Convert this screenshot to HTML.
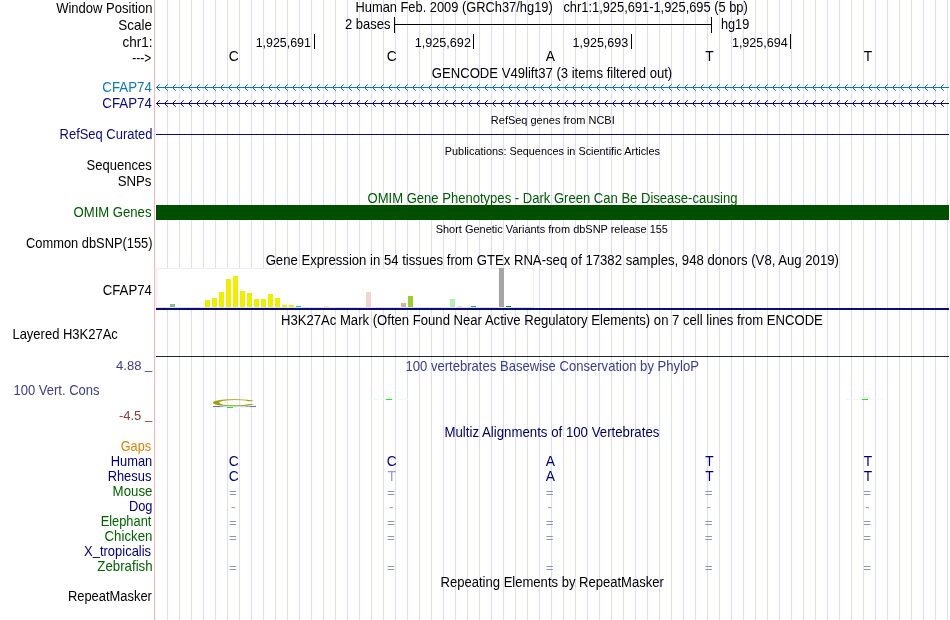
<!DOCTYPE html>
<html><head><meta charset="utf-8"><title>UCSC Genome Browser chr1:1,925,691-1,925,695</title>
<style>html,body{margin:0;padding:0;background:#fff;overflow:hidden}svg{display:block}text{font-family:"Liberation Sans",sans-serif;font-size:13.8px}.s{font-size:11px}.n{font-size:13.4px}.m{text-anchor:middle}.g{shape-rendering:crispEdges}</style></head><body>
<svg width="950" height="620" viewBox="0 0 950 620">
<rect width="950" height="620" fill="#fff"/>
<g class="g" fill="#dcdcff">
<rect x="167" y="0" width="1" height="620"/>
<rect x="179" y="0" width="1" height="620"/>
<rect x="191" y="0" width="1" height="620"/>
<rect x="203" y="0" width="1" height="620"/>
<rect x="215" y="0" width="1" height="620"/>
<rect x="227" y="0" width="1" height="620"/>
<rect x="239" y="0" width="1" height="620"/>
<rect x="251" y="0" width="1" height="620"/>
<rect x="263" y="0" width="1" height="620"/>
<rect x="275" y="0" width="1" height="620"/>
<rect x="287" y="0" width="1" height="620"/>
<rect x="299" y="0" width="1" height="620"/>
<rect x="311" y="0" width="1" height="620"/>
<rect x="323" y="0" width="1" height="620"/>
<rect x="335" y="0" width="1" height="620"/>
<rect x="347" y="0" width="1" height="620"/>
<rect x="359" y="0" width="1" height="620"/>
<rect x="371" y="0" width="1" height="620"/>
<rect x="383" y="0" width="1" height="620"/>
<rect x="395" y="0" width="1" height="620"/>
<rect x="407" y="0" width="1" height="620"/>
<rect x="419" y="0" width="1" height="620"/>
<rect x="431" y="0" width="1" height="620"/>
<rect x="443" y="0" width="1" height="620"/>
<rect x="455" y="0" width="1" height="620"/>
<rect x="467" y="0" width="1" height="620"/>
<rect x="479" y="0" width="1" height="620"/>
<rect x="491" y="0" width="1" height="620"/>
<rect x="503" y="0" width="1" height="620"/>
<rect x="515" y="0" width="1" height="620"/>
<rect x="527" y="0" width="1" height="620"/>
<rect x="539" y="0" width="1" height="620"/>
<rect x="551" y="0" width="1" height="620"/>
<rect x="563" y="0" width="1" height="620"/>
<rect x="575" y="0" width="1" height="620"/>
<rect x="587" y="0" width="1" height="620"/>
<rect x="599" y="0" width="1" height="620"/>
<rect x="611" y="0" width="1" height="620"/>
<rect x="623" y="0" width="1" height="620"/>
<rect x="635" y="0" width="1" height="620"/>
<rect x="647" y="0" width="1" height="620"/>
<rect x="659" y="0" width="1" height="620"/>
<rect x="671" y="0" width="1" height="620"/>
<rect x="683" y="0" width="1" height="620"/>
<rect x="695" y="0" width="1" height="620"/>
<rect x="707" y="0" width="1" height="620"/>
<rect x="719" y="0" width="1" height="620"/>
<rect x="731" y="0" width="1" height="620"/>
<rect x="743" y="0" width="1" height="620"/>
<rect x="755" y="0" width="1" height="620"/>
<rect x="767" y="0" width="1" height="620"/>
<rect x="779" y="0" width="1" height="620"/>
<rect x="791" y="0" width="1" height="620"/>
<rect x="803" y="0" width="1" height="620"/>
<rect x="815" y="0" width="1" height="620"/>
<rect x="827" y="0" width="1" height="620"/>
<rect x="839" y="0" width="1" height="620"/>
<rect x="851" y="0" width="1" height="620"/>
<rect x="863" y="0" width="1" height="620"/>
<rect x="875" y="0" width="1" height="620"/>
<rect x="887" y="0" width="1" height="620"/>
<rect x="899" y="0" width="1" height="620"/>
<rect x="911" y="0" width="1" height="620"/>
<rect x="923" y="0" width="1" height="620"/>
<rect x="935" y="0" width="1" height="620"/>
<rect x="947" y="0" width="1" height="620"/>
</g>
<rect class="g" x="154" y="0" width="1" height="620" fill="#ffb4b4"/>
<g class="g" fill="#000">
<rect x="394" y="24" width="318" height="1"/>
<rect x="394" y="17" width="1" height="16"/>
<rect x="711" y="17" width="1" height="16"/>
<rect x="314" y="34" width="1" height="15"/>
<rect x="473" y="34" width="1" height="15"/>
<rect x="631" y="34" width="1" height="15"/>
<rect x="790" y="34" width="1" height="15"/>
</g>
<text class="m" x="233.8" y="61">C</text>
<text class="m" x="391.8" y="61">C</text>
<text class="m" x="550.4" y="61">A</text>
<text class="m" x="709.4" y="61">T</text>
<text class="m" x="868.0" y="61">T</text>
<rect class="g" x="156" y="87" width="793" height="1" fill="#0c78b4"/>
<path d="M159.8 84.2L156.5 87.5L159.8 90.8M167.8 84.2L164.5 87.5L167.8 90.8M175.8 84.2L172.5 87.5L175.8 90.8M183.8 84.2L180.5 87.5L183.8 90.8M191.8 84.2L188.5 87.5L191.8 90.8M199.8 84.2L196.5 87.5L199.8 90.8M207.8 84.2L204.5 87.5L207.8 90.8M215.8 84.2L212.5 87.5L215.8 90.8M223.8 84.2L220.5 87.5L223.8 90.8M231.8 84.2L228.5 87.5L231.8 90.8M239.8 84.2L236.5 87.5L239.8 90.8M247.8 84.2L244.5 87.5L247.8 90.8M255.8 84.2L252.5 87.5L255.8 90.8M263.8 84.2L260.5 87.5L263.8 90.8M271.8 84.2L268.5 87.5L271.8 90.8M279.8 84.2L276.5 87.5L279.8 90.8M287.8 84.2L284.5 87.5L287.8 90.8M295.8 84.2L292.5 87.5L295.8 90.8M303.8 84.2L300.5 87.5L303.8 90.8M311.8 84.2L308.5 87.5L311.8 90.8M319.8 84.2L316.5 87.5L319.8 90.8M327.8 84.2L324.5 87.5L327.8 90.8M335.8 84.2L332.5 87.5L335.8 90.8M343.8 84.2L340.5 87.5L343.8 90.8M351.8 84.2L348.5 87.5L351.8 90.8M359.8 84.2L356.5 87.5L359.8 90.8M367.8 84.2L364.5 87.5L367.8 90.8M375.8 84.2L372.5 87.5L375.8 90.8M383.8 84.2L380.5 87.5L383.8 90.8M391.8 84.2L388.5 87.5L391.8 90.8M399.8 84.2L396.5 87.5L399.8 90.8M407.8 84.2L404.5 87.5L407.8 90.8M415.8 84.2L412.5 87.5L415.8 90.8M423.8 84.2L420.5 87.5L423.8 90.8M431.8 84.2L428.5 87.5L431.8 90.8M439.8 84.2L436.5 87.5L439.8 90.8M447.8 84.2L444.5 87.5L447.8 90.8M455.8 84.2L452.5 87.5L455.8 90.8M463.8 84.2L460.5 87.5L463.8 90.8M471.8 84.2L468.5 87.5L471.8 90.8M479.8 84.2L476.5 87.5L479.8 90.8M487.8 84.2L484.5 87.5L487.8 90.8M495.8 84.2L492.5 87.5L495.8 90.8M503.8 84.2L500.5 87.5L503.8 90.8M511.8 84.2L508.5 87.5L511.8 90.8M519.8 84.2L516.5 87.5L519.8 90.8M527.8 84.2L524.5 87.5L527.8 90.8M535.8 84.2L532.5 87.5L535.8 90.8M543.8 84.2L540.5 87.5L543.8 90.8M551.8 84.2L548.5 87.5L551.8 90.8M559.8 84.2L556.5 87.5L559.8 90.8M567.8 84.2L564.5 87.5L567.8 90.8M575.8 84.2L572.5 87.5L575.8 90.8M583.8 84.2L580.5 87.5L583.8 90.8M591.8 84.2L588.5 87.5L591.8 90.8M599.8 84.2L596.5 87.5L599.8 90.8M607.8 84.2L604.5 87.5L607.8 90.8M615.8 84.2L612.5 87.5L615.8 90.8M623.8 84.2L620.5 87.5L623.8 90.8M631.8 84.2L628.5 87.5L631.8 90.8M639.8 84.2L636.5 87.5L639.8 90.8M647.8 84.2L644.5 87.5L647.8 90.8M655.8 84.2L652.5 87.5L655.8 90.8M663.8 84.2L660.5 87.5L663.8 90.8M671.8 84.2L668.5 87.5L671.8 90.8M679.8 84.2L676.5 87.5L679.8 90.8M687.8 84.2L684.5 87.5L687.8 90.8M695.8 84.2L692.5 87.5L695.8 90.8M703.8 84.2L700.5 87.5L703.8 90.8M711.8 84.2L708.5 87.5L711.8 90.8M719.8 84.2L716.5 87.5L719.8 90.8M727.8 84.2L724.5 87.5L727.8 90.8M735.8 84.2L732.5 87.5L735.8 90.8M743.8 84.2L740.5 87.5L743.8 90.8M751.8 84.2L748.5 87.5L751.8 90.8M759.8 84.2L756.5 87.5L759.8 90.8M767.8 84.2L764.5 87.5L767.8 90.8M775.8 84.2L772.5 87.5L775.8 90.8M783.8 84.2L780.5 87.5L783.8 90.8M791.8 84.2L788.5 87.5L791.8 90.8M799.8 84.2L796.5 87.5L799.8 90.8M807.8 84.2L804.5 87.5L807.8 90.8M815.8 84.2L812.5 87.5L815.8 90.8M823.8 84.2L820.5 87.5L823.8 90.8M831.8 84.2L828.5 87.5L831.8 90.8M839.8 84.2L836.5 87.5L839.8 90.8M847.8 84.2L844.5 87.5L847.8 90.8M855.8 84.2L852.5 87.5L855.8 90.8M863.8 84.2L860.5 87.5L863.8 90.8M871.8 84.2L868.5 87.5L871.8 90.8M879.8 84.2L876.5 87.5L879.8 90.8M887.8 84.2L884.5 87.5L887.8 90.8M895.8 84.2L892.5 87.5L895.8 90.8M903.8 84.2L900.5 87.5L903.8 90.8M911.8 84.2L908.5 87.5L911.8 90.8M919.8 84.2L916.5 87.5L919.8 90.8M927.8 84.2L924.5 87.5L927.8 90.8M935.8 84.2L932.5 87.5L935.8 90.8M943.8 84.2L940.5 87.5L943.8 90.8" fill="none" stroke="#0c78b4" stroke-width="1"/>
<rect class="g" x="156" y="103" width="793" height="1" fill="#0c0c78"/>
<path d="M159.8 100.2L156.5 103.5L159.8 106.8M167.8 100.2L164.5 103.5L167.8 106.8M175.8 100.2L172.5 103.5L175.8 106.8M183.8 100.2L180.5 103.5L183.8 106.8M191.8 100.2L188.5 103.5L191.8 106.8M199.8 100.2L196.5 103.5L199.8 106.8M207.8 100.2L204.5 103.5L207.8 106.8M215.8 100.2L212.5 103.5L215.8 106.8M223.8 100.2L220.5 103.5L223.8 106.8M231.8 100.2L228.5 103.5L231.8 106.8M239.8 100.2L236.5 103.5L239.8 106.8M247.8 100.2L244.5 103.5L247.8 106.8M255.8 100.2L252.5 103.5L255.8 106.8M263.8 100.2L260.5 103.5L263.8 106.8M271.8 100.2L268.5 103.5L271.8 106.8M279.8 100.2L276.5 103.5L279.8 106.8M287.8 100.2L284.5 103.5L287.8 106.8M295.8 100.2L292.5 103.5L295.8 106.8M303.8 100.2L300.5 103.5L303.8 106.8M311.8 100.2L308.5 103.5L311.8 106.8M319.8 100.2L316.5 103.5L319.8 106.8M327.8 100.2L324.5 103.5L327.8 106.8M335.8 100.2L332.5 103.5L335.8 106.8M343.8 100.2L340.5 103.5L343.8 106.8M351.8 100.2L348.5 103.5L351.8 106.8M359.8 100.2L356.5 103.5L359.8 106.8M367.8 100.2L364.5 103.5L367.8 106.8M375.8 100.2L372.5 103.5L375.8 106.8M383.8 100.2L380.5 103.5L383.8 106.8M391.8 100.2L388.5 103.5L391.8 106.8M399.8 100.2L396.5 103.5L399.8 106.8M407.8 100.2L404.5 103.5L407.8 106.8M415.8 100.2L412.5 103.5L415.8 106.8M423.8 100.2L420.5 103.5L423.8 106.8M431.8 100.2L428.5 103.5L431.8 106.8M439.8 100.2L436.5 103.5L439.8 106.8M447.8 100.2L444.5 103.5L447.8 106.8M455.8 100.2L452.5 103.5L455.8 106.8M463.8 100.2L460.5 103.5L463.8 106.8M471.8 100.2L468.5 103.5L471.8 106.8M479.8 100.2L476.5 103.5L479.8 106.8M487.8 100.2L484.5 103.5L487.8 106.8M495.8 100.2L492.5 103.5L495.8 106.8M503.8 100.2L500.5 103.5L503.8 106.8M511.8 100.2L508.5 103.5L511.8 106.8M519.8 100.2L516.5 103.5L519.8 106.8M527.8 100.2L524.5 103.5L527.8 106.8M535.8 100.2L532.5 103.5L535.8 106.8M543.8 100.2L540.5 103.5L543.8 106.8M551.8 100.2L548.5 103.5L551.8 106.8M559.8 100.2L556.5 103.5L559.8 106.8M567.8 100.2L564.5 103.5L567.8 106.8M575.8 100.2L572.5 103.5L575.8 106.8M583.8 100.2L580.5 103.5L583.8 106.8M591.8 100.2L588.5 103.5L591.8 106.8M599.8 100.2L596.5 103.5L599.8 106.8M607.8 100.2L604.5 103.5L607.8 106.8M615.8 100.2L612.5 103.5L615.8 106.8M623.8 100.2L620.5 103.5L623.8 106.8M631.8 100.2L628.5 103.5L631.8 106.8M639.8 100.2L636.5 103.5L639.8 106.8M647.8 100.2L644.5 103.5L647.8 106.8M655.8 100.2L652.5 103.5L655.8 106.8M663.8 100.2L660.5 103.5L663.8 106.8M671.8 100.2L668.5 103.5L671.8 106.8M679.8 100.2L676.5 103.5L679.8 106.8M687.8 100.2L684.5 103.5L687.8 106.8M695.8 100.2L692.5 103.5L695.8 106.8M703.8 100.2L700.5 103.5L703.8 106.8M711.8 100.2L708.5 103.5L711.8 106.8M719.8 100.2L716.5 103.5L719.8 106.8M727.8 100.2L724.5 103.5L727.8 106.8M735.8 100.2L732.5 103.5L735.8 106.8M743.8 100.2L740.5 103.5L743.8 106.8M751.8 100.2L748.5 103.5L751.8 106.8M759.8 100.2L756.5 103.5L759.8 106.8M767.8 100.2L764.5 103.5L767.8 106.8M775.8 100.2L772.5 103.5L775.8 106.8M783.8 100.2L780.5 103.5L783.8 106.8M791.8 100.2L788.5 103.5L791.8 106.8M799.8 100.2L796.5 103.5L799.8 106.8M807.8 100.2L804.5 103.5L807.8 106.8M815.8 100.2L812.5 103.5L815.8 106.8M823.8 100.2L820.5 103.5L823.8 106.8M831.8 100.2L828.5 103.5L831.8 106.8M839.8 100.2L836.5 103.5L839.8 106.8M847.8 100.2L844.5 103.5L847.8 106.8M855.8 100.2L852.5 103.5L855.8 106.8M863.8 100.2L860.5 103.5L863.8 106.8M871.8 100.2L868.5 103.5L871.8 106.8M879.8 100.2L876.5 103.5L879.8 106.8M887.8 100.2L884.5 103.5L887.8 106.8M895.8 100.2L892.5 103.5L895.8 106.8M903.8 100.2L900.5 103.5L903.8 106.8M911.8 100.2L908.5 103.5L911.8 106.8M919.8 100.2L916.5 103.5L919.8 106.8M927.8 100.2L924.5 103.5L927.8 106.8M935.8 100.2L932.5 103.5L935.8 106.8M943.8 100.2L940.5 103.5L943.8 106.8" fill="none" stroke="#0c0c78" stroke-width="1"/>
<rect class="g" x="156" y="134" width="793" height="1" fill="#0c0c78"/>
<rect class="g" x="156" y="205" width="793" height="15" fill="#005000"/>
<rect class="g" x="156.5" y="268.5" width="377" height="39" fill="#fff" stroke="#eee" stroke-width="1"/>
<g class="g">
<rect x="170" y="304" width="5" height="3" fill="#8fbc8f"/>
<rect x="205" y="300" width="5" height="7" fill="#eeee00"/>
<rect x="212" y="298" width="5" height="9" fill="#eeee00"/>
<rect x="219" y="292" width="5" height="15" fill="#eeee00"/>
<rect x="226" y="279" width="5" height="28" fill="#eeee00"/>
<rect x="233" y="276" width="5" height="31" fill="#eeee00"/>
<rect x="240" y="291" width="5" height="16" fill="#eeee00"/>
<rect x="247" y="293" width="5" height="14" fill="#eeee00"/>
<rect x="254" y="299" width="5" height="8" fill="#eeee00"/>
<rect x="261" y="299" width="5" height="8" fill="#eeee00"/>
<rect x="268" y="294" width="5" height="13" fill="#eeee00"/>
<rect x="275" y="298" width="5" height="9" fill="#eeee00"/>
<rect x="282" y="305" width="5" height="2" fill="#eeee00"/>
<rect x="289" y="305" width="5" height="2" fill="#eeee00"/>
<rect x="296" y="306" width="5" height="1" fill="#00cdcd"/>
<rect x="324" y="306" width="5" height="1" fill="#ffd7d7"/>
<rect x="366" y="292" width="5" height="15" fill="#eed5d2"/>
<rect x="401" y="303" width="5" height="4" fill="#cdb79e"/>
<rect x="408" y="296" width="5" height="11" fill="#9acd32"/>
<rect x="450" y="299" width="5" height="8" fill="#b4eeb4"/>
<rect x="457" y="306" width="5" height="1" fill="#d9d9d9"/>
<rect x="471" y="306" width="5" height="1" fill="#1e90ff"/>
<rect x="499" y="268" width="5" height="39" fill="#a6a6a6"/>
<rect x="506" y="306" width="5" height="1" fill="#008b45"/>
<rect x="156" y="307" width="378" height="1" fill="#e2e2dc"/>
<rect x="156" y="308" width="793" height="2" fill="#0c0c78"/>
</g>
<rect class="g" x="156" y="356" width="793" height="1" fill="#1e2832"/>
<rect class="g" x="156" y="356" width="1" height="1" fill="#000"/>
<g class="g">
<rect x="213" y="406" width="43" height="1" fill="#6464ff"/>
<rect x="220" y="406" width="3" height="1" fill="#9b9bff"/>
<rect x="223" y="406" width="23" height="1" fill="#d2d2ff"/>
<rect x="246" y="406" width="4" height="1" fill="#9b9bff"/>
<rect x="211" y="407" width="40" height="1" fill="#ebfdeb"/>
<rect x="370" y="399" width="38" height="1" fill="#ebfdeb"/>
<rect x="846" y="399" width="38" height="1" fill="#ebfdeb"/>
<rect x="227" y="407" width="6" height="1" fill="#00ff00"/>
<rect x="386" y="399" width="6" height="1" fill="#00ff00"/>
<rect x="862" y="399" width="6" height="1" fill="#00ff00"/>
</g>
<text x="0" y="0" transform="translate(209.7 405.9) scale(0.654 0.097)" fill="#a0a000" style="font-size:100px;text-rendering:geometricPrecision">C</text>
<text class="m" x="233.8" y="466" fill="#000078">C</text>
<text class="m" x="391.8" y="466" fill="#000078">C</text>
<text class="m" x="550.4" y="466" fill="#000078">A</text>
<text class="m" x="709.4" y="466" fill="#000078">T</text>
<text class="m" x="868.0" y="466" fill="#000078">T</text>
<text class="m" x="233.8" y="481" fill="#000078">C</text>
<text class="m" x="391.8" y="481" fill="#969bc3">T</text>
<text class="m" x="550.4" y="481" fill="#000078">A</text>
<text class="m" x="709.4" y="481" fill="#000078">T</text>
<text class="m" x="868.0" y="481" fill="#000078">T</text>
<text class="m n" x="233.0" y="497" fill="#8c96b4">=</text>
<text class="m n" x="391.0" y="497" fill="#8c96b4">=</text>
<text class="m n" x="549.6" y="497" fill="#8c96b4">=</text>
<text class="m n" x="708.6" y="497" fill="#8c96b4">=</text>
<text class="m n" x="867.2" y="497" fill="#8c96b4">=</text>
<text class="m n" x="233.2" y="511" fill="#8c96b4">-</text>
<text class="m n" x="391.2" y="511" fill="#8c96b4">-</text>
<text class="m n" x="549.8" y="511" fill="#8c96b4">-</text>
<text class="m n" x="708.8" y="511" fill="#8c96b4">-</text>
<text class="m n" x="867.4" y="511" fill="#8c96b4">-</text>
<text class="m n" x="233.0" y="527" fill="#8c96b4">=</text>
<text class="m n" x="391.0" y="527" fill="#8c96b4">=</text>
<text class="m n" x="549.6" y="527" fill="#8c96b4">=</text>
<text class="m n" x="708.6" y="527" fill="#8c96b4">=</text>
<text class="m n" x="867.2" y="527" fill="#8c96b4">=</text>
<text class="m n" x="233.0" y="542" fill="#8c96b4">=</text>
<text class="m n" x="391.0" y="542" fill="#8c96b4">=</text>
<text class="m n" x="549.6" y="542" fill="#8c96b4">=</text>
<text class="m n" x="708.6" y="542" fill="#8c96b4">=</text>
<text class="m n" x="867.2" y="542" fill="#8c96b4">=</text>
<text class="m n" x="233.0" y="572" fill="#8c96b4">=</text>
<text class="m n" x="391.0" y="572" fill="#8c96b4">=</text>
<text class="m n" x="549.6" y="572" fill="#8c96b4">=</text>
<text class="m n" x="708.6" y="572" fill="#8c96b4">=</text>
<text class="m n" x="867.2" y="572" fill="#8c96b4">=</text>
<text transform="translate(56.13 13) scale(0.9453 1)">Window Position</text>
<text transform="translate(118.36 30) scale(0.9749 1)">Scale</text>
<text transform="translate(122.53 47) scale(0.9773 1)">chr1:</text>
<text transform="translate(132.24 63) scale(0.8728 1)">---&gt;</text>
<text transform="translate(102.36 92) scale(0.9645 1)" fill="#0c78b4">CFAP74</text>
<text transform="translate(102.36 108) scale(0.9645 1)" fill="#0c0c78">CFAP74</text>
<text transform="translate(59.59 139) scale(0.9386 1)" fill="#0c0c78">RefSeq Curated</text>
<text transform="translate(86.54 170) scale(0.9431 1)">Sequences</text>
<text transform="translate(117.65 186) scale(0.9594 1)">SNPs</text>
<text transform="translate(73.53 217) scale(0.9502 1)" fill="#005a00">OMIM Genes</text>
<text transform="translate(26.05 248) scale(0.9327 1)">Common dbSNP(155)</text>
<text transform="translate(102.66 295) scale(0.9607 1)">CFAP74</text>
<text transform="translate(12.43 339) scale(0.9417 1)">Layered H3K27Ac</text>
<text class="n" transform="translate(116.03 370) scale(0.9756 1)" fill="#3c3c8c">4.88 <tspan dy="-1">_</tspan></text>
<text transform="translate(13.49 395) scale(0.9431 1)" fill="#3c3c8c">100 Vert. Cons</text>
<text class="n" transform="translate(118.88 420) scale(0.9731 1)" fill="#8c3c3c">-4.5 <tspan dy="-1">_</tspan></text>
<text transform="translate(120.73 451) scale(0.9195 1)" fill="#e08000">Gaps</text>
<text transform="translate(110.75 466) scale(0.9338 1)" fill="#000078">Human</text>
<text transform="translate(107.64 481) scale(0.9343 1)" fill="#000078">Rhesus</text>
<text transform="translate(112.58 496) scale(0.9623 1)" fill="#006400">Mouse</text>
<text transform="translate(128.89 511) scale(0.9323 1)" fill="#000078">Dog</text>
<text transform="translate(100.64 526) scale(0.9314 1)" fill="#006400">Elephant</text>
<text transform="translate(104.5 541) scale(0.9616 1)" fill="#006400">Chicken</text>
<text transform="translate(84.07 556) scale(0.9409 1)" fill="#000078">X<tspan dy="-1">_</tspan><tspan dy="1">tropicalis</tspan></text>
<text transform="translate(97.31 571) scale(0.9626 1)" fill="#006400">Zebrafish</text>
<text transform="translate(67.89 601) scale(0.9371 1)">RepeatMasker</text>
<text transform="translate(355.5 12) scale(0.9324 1)">Human Feb. 2009 (GRCh37/hg19)&#160;&#160;&#160;chr1:1,925,691-1,925,695 (5 bp)</text>
<text transform="translate(431.78 78) scale(0.951 1)">GENCODE V49lift37 (3 items filtered out)</text>
<text class="s" transform="translate(490.85 124) scale(0.9983 1)">RefSeq genes from NCBI</text>
<text class="s" transform="translate(444.77 155) scale(0.9892 1)">Publications: Sequences in Scientific Articles</text>
<text transform="translate(367.54 203) scale(0.9467 1)" fill="#005a00">OMIM Gene Phenotypes - Dark Green Can Be Disease-causing</text>
<text class="s" transform="translate(435.71 233) scale(0.9979 1)">Short Genetic Variants from dbSNP release 155</text>
<text transform="translate(265.63 265) scale(0.9526 1)">Gene Expression in 54 tissues from GTEx RNA-seq of 17382 samples, 948 donors (V8, Aug 2019)</text>
<text transform="translate(280.92 325) scale(0.9503 1)">H3K27Ac Mark (Often Found Near Active Regulatory Elements) on 7 cell lines from ENCODE</text>
<text transform="translate(405.48 371) scale(0.9472 1)" fill="#3c3c8c">100 vertebrates Basewise Conservation by PhyloP</text>
<text transform="translate(444.43 437) scale(0.961 1)" fill="#000064">Multiz Alignments of 100 Vertebrates</text>
<text transform="translate(440.55 587) scale(0.9461 1)">Repeating Elements by RepeatMasker</text>
<text transform="translate(345.02 29) scale(0.942 1)">2 bases</text>
<text transform="translate(720.9 29) scale(0.9248 1)">hg19</text>
<text class="n" transform="translate(255.63 47) scale(0.9274 1)">1,925,691</text>
<text class="n" transform="translate(414.69 47) scale(0.9444 1)">1,925,692</text>
<text class="n" transform="translate(572.42 47) scale(0.939 1)">1,925,693</text>
<text class="n" transform="translate(731.89 47) scale(0.9393 1)">1,925,694</text>
</svg></body></html>
